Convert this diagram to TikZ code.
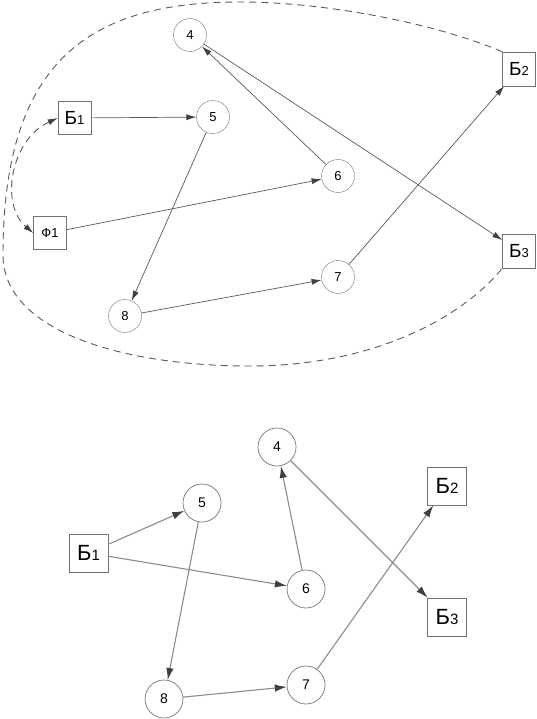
\documentclass[tikz,border=0pt]{standalone}
\usepackage{fontspec}
\setmainfont{Liberation Sans}
\usetikzlibrary{arrows.meta}

\begin{document}
\begin{tikzpicture}[x=1pt, y=-1pt,
    vtx/.style={draw=black!55, circle, minimum size=33pt, inner sep=0pt, font=\fontsize{13}{13}\selectfont},
    blk/.style={draw=black!55, minimum width=33pt, minimum height=33pt, inner sep=0pt, font=\fontsize{19}{19}\selectfont},
    vtxb/.style={vtx, minimum size=38pt, line width=0.7pt, font=\fontsize{14}{14}\selectfont},
    blkb/.style={blk, minimum width=39pt, minimum height=38pt, line width=0.7pt, font=\fontsize{22}{22}\selectfont},
    arr/.style={draw=black!65, line width=0.7pt, -{Latex[length=10pt,width=6pt,color=black!75]}},
    arrb/.style={draw=black!45, line width=1.1pt, -{Latex[length=12pt,width=7.5pt,color=black!75]}},
    loop/.style={draw=black!65, line width=0.9pt, dash pattern=on 7pt off 5pt}]
    \useasboundingbox (0,0) rectangle (536,719);

    % upper graph
    \node[vtx] (u4) at (190,35) {4};
    \node[vtx] (u5) at (213,117) {5};
    \node[vtx] (u6) at (338,176) {6};
    \node[vtx] (u7) at (338,277) {7};
    \node[vtx] (u8) at (125,316) {8};
    \node[blk] (uB1) at (74.5,118) {Б{\fontsize{13}{13}\selectfont 1}};
    \node[blk, font=\fontsize{13}{13}\selectfont] (uF1) at (50,233) {Ф1};
    \node[blk, minimum height=34pt] (uB2) at (519,69) {Б{\fontsize{13}{13}\selectfont 2}};
    \node[blk, minimum height=34pt] (uB3) at (519,251) {Б{\fontsize{13}{13}\selectfont 3}};

    \draw[arr] (uB1) -- (u5);
    \draw[arr] (u5) -- (u8);
    \draw[arr] (uF1) -- (u6);
    \draw[arr] (u6) -- (u4);
    \draw[arr] (u4) -- (uB3);
    \draw[arr] (u8) -- (u7);
    \draw[arr] (u7) -- (uB2);

    \draw[loop] (uB2.north west) .. controls (440,25) and (330,2) .. (240,2)
        .. controls (90,2) and (3,60) .. (3,255)
        .. controls (3,330) and (120,366) .. (250,366)
        .. controls (370,366) and (460,320) .. (uB3.south west);
    \draw[loop, {Latex[length=10pt,width=6pt,color=black!75]}-{Latex[length=10pt,width=6pt,color=black!75]}]
        (uB1.west) .. controls (10,140) and (0,205) .. (uF1.west);

    % lower graph
    \node[vtxb] (l4) at (277,447) {4};
    \node[vtxb] (l5) at (202,503) {5};
    \node[vtxb] (l6) at (306,589) {6};
    \node[vtxb] (l7) at (306,685) {7};
    \node[vtxb] (l8) at (164,699) {8};
    \node[blkb] (lB1) at (88.5,553) {Б{\fontsize{15}{15}\selectfont 1}};
    \node[blkb] (lB2) at (447,486) {Б{\fontsize{15}{15}\selectfont 2}};
    \node[blkb] (lB3) at (447,617) {Б{\fontsize{15}{15}\selectfont 3}};

    \draw[arrb] (lB1) -- (l5);
    \draw[arrb] (lB1) -- (l6);
    \draw[arrb] (l5) -- (l8);
    \draw[arrb] (l6) -- (l4);
    \draw[arrb] (l4) -- (lB3);
    \draw[arrb] (l8) -- (l7);
    \draw[arrb] (l7) -- (lB2);
\end{tikzpicture}
\end{document}
